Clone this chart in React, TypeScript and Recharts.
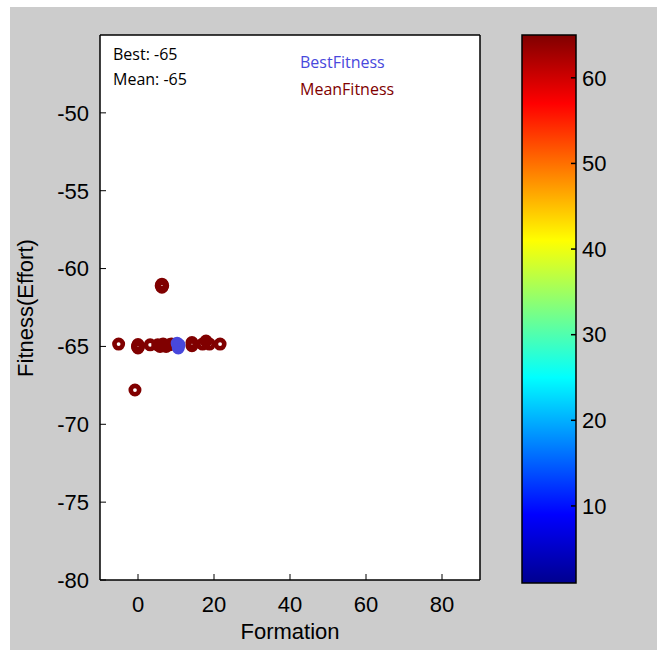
import React from 'react';
import {
  Bar,
  BarChart,
  CartesianGrid,
  Scatter,
  ScatterChart,
  XAxis,
  YAxis,
} from 'recharts';

// MeanFitness points (formation, fitness); overlapping rings read as filled blobs
const meanX = [-5.1, -0.8, 0, 0, -0.15, 0.15, 6.3, 6.3, 6.1, 6.5, 3.2, 5.2, 5.8, 6.6, 7.4, 8.2, 8.8, 14.2, 14.2, 17.0, 17.9, 18.8, 21.6];
const meanY = [-64.85, -67.8, -64.88, -65.1, -65.0, -65.0, -61.0, -61.2, -61.1, -61.1, -64.9, -64.9, -65.0, -64.85, -65.0, -64.9, -64.85, -64.75, -64.95, -64.85, -64.65, -64.85, -64.85];
const bestX = [10.3, 10.6, 10.8];
const bestY = [-64.8, -65.1, -64.9];

const xTicks = [0, 20, 40, 60, 80];
const yTicks = [-80, -75, -70, -65, -60, -55, -50];
const cbTicks = [10, 20, 30, 40, 50, 60];
const cbRange = [1, 65];

const meanData = meanX.map((x, i) => ({ x, y: meanY[i] }));
const bestData = bestX.map((x, i) => ({ x, y: bestY[i] }));
const cbData = [{ name: 'cb', range: cbRange }];

const RED = '#800000';
const BLUE = '#4848dc';
const TICK_FONT = { fill: '#000', fontSize: 22, fontFamily: 'Liberation Sans, Arial, sans-serif' };
const NOTE_FONT = 'Open Sans, Noto Sans, sans-serif';

const ring = (color: string) => (props: any) => (
  <circle cx={props.cx} cy={props.cy} r={4.2} fill="none" stroke={color} strokeWidth={4.6} />
);

const noTick = () => <g />;

const YLabel = () => (
  <text x={25} y={308} transform="rotate(-90 25 308)" textAnchor="middle" dominantBaseline="central"
    style={{ fontSize: 22, fontFamily: 'Liberation Sans, Arial, sans-serif', fill: '#000' }}>
    Fitness(Effort)
  </text>
);

export default function App() {
  return (
    <div style={{ position: 'absolute', left: 0, top: 0, width: 657, height: 650, background: '#fff', overflow: 'hidden' }}>
      <div style={{ position: 'absolute', left: 10, top: 7, width: 647, height: 643, background: '#cccccc' }} />

      <div style={{ position: 'absolute', left: 0, top: 0 }}>
        <ScatterChart width={500} height={650} margin={{ top: 30, right: 10, bottom: 10, left: 40 }}>
          <CartesianGrid horizontal={false} vertical={false} fill="#fff" />
          <XAxis xAxisId="b" type="number" dataKey="x" domain={[-10, 90]} ticks={xTicks} height={60}
            allowDataOverflow tick={TICK_FONT} tickSize={-6} tickMargin={22}
            axisLine={{ stroke: '#000', strokeWidth: 1.5 }} tickLine={{ stroke: '#000' }}
            label={{ value: 'Formation', position: 'insideBottom', offset: 1, style: TICK_FONT }} />
          <XAxis xAxisId="t" orientation="top" type="number" domain={[-10, 90]} ticks={xTicks} height={5}
            tick={noTick} tickSize={-6} axisLine={{ stroke: '#000', strokeWidth: 1.5 }} tickLine={{ stroke: '#000' }} />
          <YAxis yAxisId="l" type="number" dataKey="y" domain={[-80, -45]} ticks={yTicks} width={60}
            allowDataOverflow tick={TICK_FONT} tickSize={-6} tickMargin={17}
            axisLine={{ stroke: '#000', strokeWidth: 1.5 }} tickLine={{ stroke: '#000' }}
            label={<YLabel />} />
          <YAxis yAxisId="r" orientation="right" type="number" domain={[-80, -45]} ticks={yTicks} width={10}
            tick={noTick} tickSize={-6} axisLine={{ stroke: '#000', strokeWidth: 1.5 }} tickLine={{ stroke: '#000' }} />
          <Scatter name="MeanFitness" data={meanData} xAxisId="b" yAxisId="l" shape={ring(RED)} isAnimationActive={false} />
          <Scatter name="BestFitness" data={bestData} xAxisId="b" yAxisId="l" shape={ring(BLUE)} isAnimationActive={false} />
        </ScatterChart>
      </div>

      <div style={{ position: 'absolute', left: 113, top: 42, fontFamily: NOTE_FONT, fontSize: 16, lineHeight: '25px', color: '#000' }}>
        <div>Best: -65</div>
        <div>Mean: -65</div>
      </div>
      <div style={{ position: 'absolute', left: 300, top: 49, fontFamily: NOTE_FONT, fontSize: 16, lineHeight: '27px' }}>
        <div style={{ color: BLUE }}>BestFitness</div>
        <div style={{ color: RED }}>MeanFitness</div>
      </div>

      <div style={{ position: 'absolute', left: 500, top: 0 }}>
        <BarChart width={157} height={650} data={cbData} barCategoryGap={0}
          margin={{ top: 35, right: 36, bottom: 67, left: 22 }}>
          <defs>
            <linearGradient id="jet" x1="0" y1="1" x2="0" y2="0">
              <stop offset="0" stopColor="#00008f" />
              <stop offset="0.125" stopColor="#0000ff" />
              <stop offset="0.375" stopColor="#00ffff" />
              <stop offset="0.625" stopColor="#ffff00" />
              <stop offset="0.875" stopColor="#ff0000" />
              <stop offset="1" stopColor="#800000" />
            </linearGradient>
          </defs>
          <XAxis dataKey="name" hide />
          <YAxis yAxisId="r" orientation="right" type="number" domain={cbRange} ticks={cbTicks} width={45}
            tick={TICK_FONT} tickSize={-5} tickMargin={11} axisLine={false} tickLine={{ stroke: '#000', strokeWidth: 1.5 }} />
          <Bar dataKey="range" yAxisId="r" fill="url(#jet)" stroke="#000" strokeWidth={1.5} isAnimationActive={false} />
        </BarChart>
      </div>
    </div>
  );
}
